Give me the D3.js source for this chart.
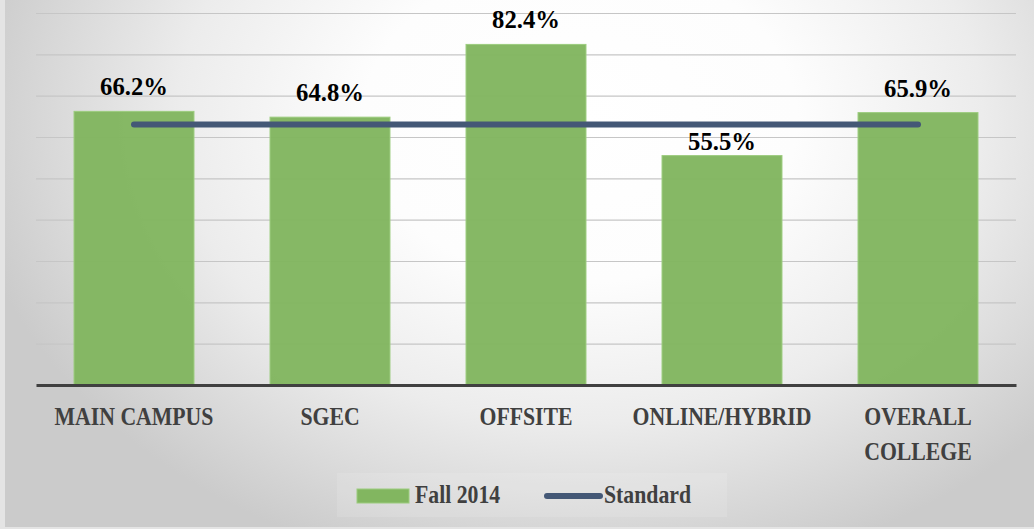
<!DOCTYPE html>
<html>
<head>
<meta charset="utf-8">
<script src="https://cdn.jsdelivr.net/npm/d3@7"></script>
<style>
  body { margin: 0; background: #e4e4e4; }
  svg { display: block; }
</style>
</head>
<body>
<div id="chart"></div>
<script>
// data
let categories = ['MAIN CAMPUS', 'SGEC', 'OFFSITE', 'ONLINE/HYBRID', 'OVERALL COLLEGE']
let fall2014 = [66.2, 64.8, 82.4, 55.5, 65.9]
let standard = [63, 63, 63, 63, 63]
let yTicks = [0, 10, 20, 30, 40, 50, 60, 70, 80, 90]
let seriesNames = ['Fall 2014', 'Standard']

let totalWidth = 1034
let totalHeight = 529
let margin = { top: 13, left: 36, right: 18, bottom: 144 }
let width = totalWidth - margin.left - margin.right
let height = totalHeight - margin.top - margin.bottom

let barColor = '#82b660'
let lineColor = '#445876'
let squeeze = 0.87 // labels in the original are a narrow bold serif

let root = d3
  .select('#chart')
  .append('svg')
  .attr('width', totalWidth)
  .attr('height', totalHeight)

let defs = root.append('defs')
let grad = defs
  .append('radialGradient')
  .attr('id', 'bg')
  .attr('gradientUnits', 'userSpaceOnUse')
  .attr('cx', 580)
  .attr('cy', 120)
  .attr('r', 620)
  .attr('gradientTransform', 'translate(580,120) scale(1,0.75) translate(-580,-120)')
grad.append('stop').attr('offset', '0%').attr('stop-color', '#ffffff')
grad.append('stop').attr('offset', '35%').attr('stop-color', '#fdfdfd')
grad.append('stop').attr('offset', '65%').attr('stop-color', '#ececec')
grad.append('stop').attr('offset', '100%').attr('stop-color', '#cbcbcb')

root
  .append('rect')
  .attr('x', 5)
  .attr('y', 0)
  .attr('width', totalWidth - 5)
  .attr('height', totalHeight - 2)
  .attr('fill', 'url(#bg)')

let svg = root
  .append('g')
  .attr('transform', 'translate(' + margin.left + ',' + margin.top + ')')

let xPositionScale = d3
  .scaleBand()
  .domain(categories)
  .range([0, width])
  .paddingInner(0.388)
  .paddingOuter(0.194)

let yPositionScale = d3.scaleLinear().domain([0, 90]).range([height, 0])

// gridlines
let yAxis = d3
  .axisLeft(yPositionScale)
  .tickValues(yTicks)
  .tickSize(-width)
  .tickFormat('')
svg
  .append('g')
  .attr('class', 'axis y-axis')
  .call(yAxis)
  .call(g => g.select('.domain').remove())
  .call(g =>
    g
      .selectAll('.tick line')
      .attr('stroke', '#c6c6c6')
      .attr('stroke-width', 1.2)
  )

// bars
svg
  .selectAll('.bar')
  .data(fall2014)
  .enter()
  .append('rect')
  .attr('class', 'bar')
  .attr('x', (d, i) => xPositionScale(categories[i]))
  .attr('y', d => yPositionScale(d))
  .attr('width', xPositionScale.bandwidth())
  .attr('height', d => height - yPositionScale(d))
  .attr('fill', barColor)
  .attr('fill-opacity', 0.97)
  .attr('stroke', '#9ccc7e')
  .attr('stroke-width', 1)

// x axis baseline + labels
let xAxis = d3.axisBottom(xPositionScale).tickSize(0).tickFormat('')
svg
  .append('g')
  .attr('class', 'axis x-axis')
  .attr('transform', 'translate(0,' + height + ')')
  .call(xAxis)
  .call(g =>
    g
      .select('.domain')
      .attr('stroke', '#404040')
      .attr('stroke-width', 3)
  )

let catLabels = svg
  .append('g')
  .selectAll('.cat-label')
  .data(categories)
  .enter()
  .append('text')
  .attr('class', 'cat-label')
  .attr('transform', d => {
    let cx = xPositionScale(d) + xPositionScale.bandwidth() / 2
    return 'translate(' + cx + ',' + (height + 40) + ') scale(' + squeeze + ',1)'
  })
  .attr('text-anchor', 'middle')
  .attr('font-family', 'Liberation Serif, serif')
  .attr('font-weight', 'bold')
  .attr('font-size', 25)
  .attr('fill', '#404040')

catLabels.each(function(d) {
  let words = d === 'OVERALL COLLEGE' ? d.split(' ') : [d]
  d3.select(this)
    .selectAll('tspan')
    .data(words)
    .enter()
    .append('tspan')
    .attr('x', 0)
    .attr('dy', (w, i) => (i === 0 ? 0 : 35))
    .text(w => w)
})

// standard line
let line = d3
  .line()
  .x((d, i) => xPositionScale(categories[i]) + xPositionScale.bandwidth() / 2)
  .y(d => yPositionScale(d))

svg
  .append('path')
  .datum(standard)
  .attr('d', line)
  .attr('fill', 'none')
  .attr('stroke', lineColor)
  .attr('stroke-width', 6)
  .attr('stroke-linecap', 'round')

// value labels
svg
  .selectAll('.value-label')
  .data(fall2014)
  .enter()
  .append('text')
  .attr('class', 'value-label')
  .attr('transform', (d, i) => {
    let cx = xPositionScale(categories[i]) + xPositionScale.bandwidth() / 2
    let top = yPositionScale(d)
    let lineY = yPositionScale(standard[i])
    let y = top - 16
    // move label down to the bar when it would sit on the standard line
    if (top - 16 > lineY - 3 && top - 34 < lineY + 3) {
      y = top - 6
    }
    return 'translate(' + cx + ',' + y + ') scale(0.95,1)'
  })
  .attr('text-anchor', 'middle')
  .attr('font-family', 'Liberation Serif, serif')
  .attr('font-weight', 'bold')
  .attr('font-size', 26)
  .attr('fill', '#000')
  .text(d => d.toFixed(1) + '%')

// legend
let legend = root.append('g').attr('transform', 'translate(357,489)')

legend
  .append('rect')
  .attr('x', -20)
  .attr('y', -16)
  .attr('width', 390)
  .attr('height', 44)
  .attr('fill', '#ffffff')
  .attr('fill-opacity', 0.12)

legend
  .append('rect')
  .attr('x', 0)
  .attr('y', 0)
  .attr('width', 52)
  .attr('height', 14)
  .attr('fill', barColor)
  .attr('stroke', '#9ccc7e')
  .attr('stroke-width', 1)

legend
  .append('line')
  .attr('x1', 190)
  .attr('x2', 243)
  .attr('y1', 7)
  .attr('y2', 7)
  .attr('stroke', lineColor)
  .attr('stroke-width', 6)
  .attr('stroke-linecap', 'round')

legend
  .selectAll('.legend-text')
  .data(seriesNames)
  .enter()
  .append('text')
  .attr('class', 'legend-text')
  .attr('transform', (d, i) => 'translate(' + (i === 0 ? 58 : 247) + ',14) scale(' + squeeze + ',1)')
  .attr('font-family', 'Liberation Serif, serif')
  .attr('font-weight', 'bold')
  .attr('font-size', 25)
  .attr('fill', '#404040')
  .text(d => d)
</script>
</body>
</html>
